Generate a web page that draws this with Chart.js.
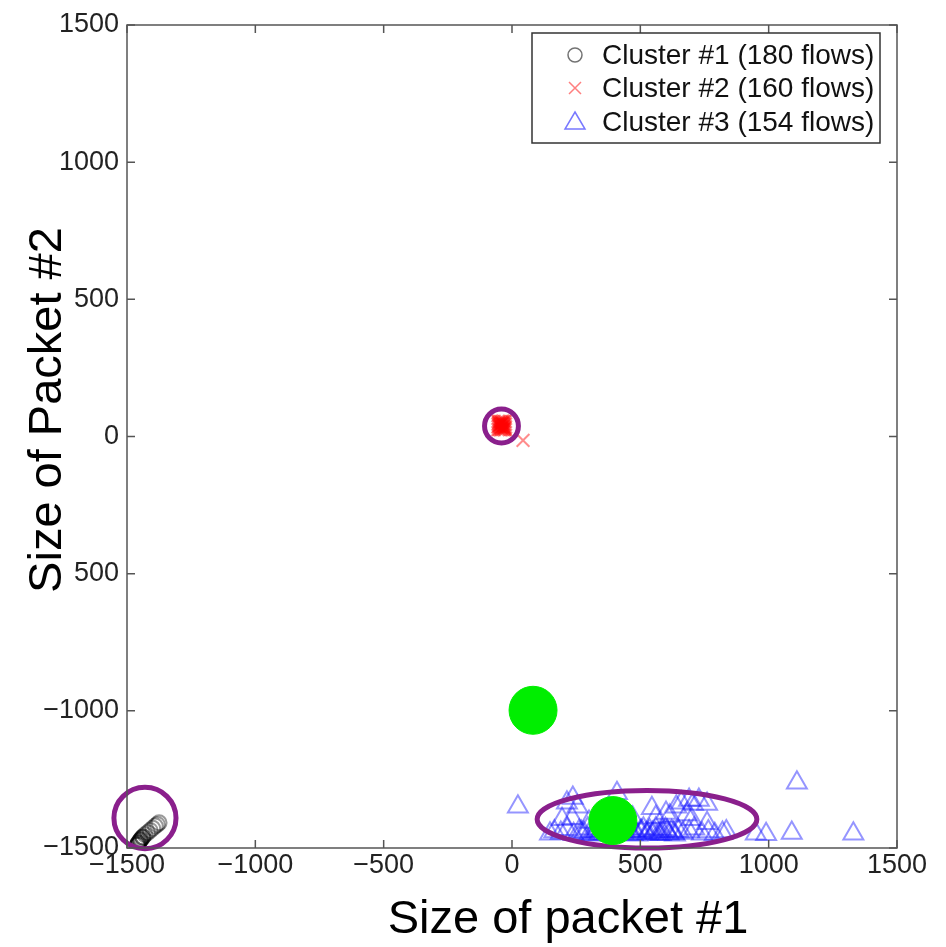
<!DOCTYPE html>
<html>
<head>
<meta charset="utf-8">
<script src="https://cdn.jsdelivr.net/npm/chart.js@4.4.1/dist/chart.umd.min.js"></script>
<style>
  html, body { margin: 0; padding: 0; background: #fff; }
  #wrap { width: 946px; height: 947px; }
</style>
</head>
<body>
<div id="wrap"><canvas id="myChart" width="946" height="947"></canvas></div>
<script>
// tick labels as they appear on the figure
const xTickLabels = ['\u22121500', '\u22121000', '\u2212500', '0', '500', '1000', '1500'];
const yTickLabels = ['\u22121500', '\u22121000', '500', '0', '500', '1000', '1500'];

const seriesLabels = ['Cluster #1 (180 flows)', 'Cluster #2 (160 flows)', 'Cluster #3 (154 flows)'];

// cluster 1 - circles, bottom left diagonal (lower ones overlap a lot)
const c1x = [-1460, -1460, -1458, -1456, -1456, -1452, -1450, -1447, -1447, -1442, -1438, -1438, -1430,
    -1420, -1410, -1400, -1390, -1382, -1375];
const c1y = [-1490, -1490, -1486, -1482, -1482, -1478, -1474, -1470, -1470, -1464, -1460, -1460, -1452,
    -1444, -1436, -1428, -1420, -1414, -1408];

// cluster 2 - crosses, near the origin
const c2x = [-55, -50, -45, -40, -35, -30, -25, -55, -50, -45, -40, -35, -30, -25, -55, -50, -45, -40, -35, -30, -25,
    -55, -50, -45, -40, -35, -30, -25, -52, -47, -42, -37, -32, -27, -52, -42, -32, 43];
const c2y = [55, 55, 54, 55, 56, 54, 55, 45, 46, 44, 45, 46, 44, 45, 35, 36, 34, 35, 36, 34, 35,
    25, 26, 24, 25, 26, 24, 25, 50, 40, 30, 50, 40, 30, 40, 50, 30, -14];

// cluster 3 - triangles, bottom right
const c3x = [23, 214, 237, 255, 409, 545, 600, 640, 660, 690, 705, 728, 760, 1110,
    195, 235, 300, 470, 560, 615, 680, 700, 760,
    148, 165, 190, 215, 240, 262, 280, 295, 310, 325, 340, 355, 370, 385, 420, 435, 450, 462, 475, 488, 500, 512,
    524, 536, 548, 560, 572, 585, 598, 610, 622, 635, 648, 665, 690, 710, 740, 765, 790, 820, 835, 950, 990, 1090, 1330,
    270, 300, 330, 360, 440, 470, 505, 530, 555, 580, 605, 630];
const c3y = [-1350, -1335, -1318, -1350, -1300, -1355, -1372, -1350, -1335, -1325, -1340, -1325, -1340, -1262,
    -1395, -1392, -1405, -1390, -1388, -1382, -1378, -1395, -1410,
    -1448, -1440, -1445, -1432, -1450, -1438, -1445, -1430, -1452, -1440, -1448, -1435, -1445, -1452, -1440, -1448,
    -1430, -1445, -1438, -1452, -1440, -1430, -1448, -1436, -1445, -1430, -1450, -1440, -1432, -1448, -1440, -1452,
    -1438, -1445, -1440, -1430, -1448, -1440, -1450, -1445, -1440, -1448, -1450, -1445, -1448,
    -1442, -1450, -1438, -1446, -1442, -1450, -1438, -1446, -1442, -1450, -1438, -1446];

// cluster centres (green)
const centreX = [82, 393];
const centreY = [-998, -1400];

// purple rings: centre and radii in data units
const ringX = [-1430, -41, 526];
const ringY = [-1391, 38, -1395];
const ringRx = [121, 66, 428];
const ringRy = [112, 62, 105];

function toPoints(xs, ys) {
    return xs.map((x, i) => ({ x: x, y: ys[i] }));
}

const fontName = '"Liberation Sans", Arial, Helvetica, sans-serif';
const circleColor = 'rgba(0,0,0,0.4)';
const crossColor = 'rgba(255,0,0,0.45)';
const triColor = 'rgba(20,20,255,0.45)';
const ringColor = '#8a1f8c';

const extras = {
    id: 'extras',
    beforeDatasetDraw(chart, args) {
        if (args.index !== 3) return;
        const ctx = chart.ctx;
        const xs = chart.scales.x, ys = chart.scales.y;
        ctx.save();
        ctx.strokeStyle = ringColor;
        ctx.lineWidth = 5;
        for (let i = 0; i < ringX.length; i++) {
            const cx = xs.getPixelForValue(ringX[i]);
            const cy = ys.getPixelForValue(ringY[i]);
            const rx = xs.getPixelForValue(ringX[i] + ringRx[i]) - cx;
            const ry = cy - ys.getPixelForValue(ringY[i] + ringRy[i]);
            ctx.beginPath();
            ctx.ellipse(cx, cy, rx, ry, 0, 0, Math.PI * 2);
            ctx.stroke();
        }
        ctx.restore();
    },
    afterDraw(chart) {
        const ctx = chart.ctx;
        const a = chart.chartArea;
        const xs = chart.scales.x, ys = chart.scales.y;
        ctx.save();
        // frame
        ctx.strokeStyle = '#555';
        ctx.lineWidth = 1.5;
        ctx.strokeRect(a.left, a.top, a.right - a.left, a.bottom - a.top);
        // inward ticks on all sides
        const tl = 8;
        ctx.beginPath();
        xs.ticks.forEach(t => {
            const px = xs.getPixelForValue(t.value);
            ctx.moveTo(px, a.bottom); ctx.lineTo(px, a.bottom - tl);
            ctx.moveTo(px, a.top); ctx.lineTo(px, a.top + tl);
        });
        ys.ticks.forEach(t => {
            const py = ys.getPixelForValue(t.value);
            ctx.moveTo(a.left, py); ctx.lineTo(a.left + tl, py);
            ctx.moveTo(a.right, py); ctx.lineTo(a.right - tl, py);
        });
        ctx.stroke();

        // axis titles
        ctx.fillStyle = '#000';
        ctx.font = '47px ' + fontName;
        ctx.textAlign = 'center';
        ctx.textBaseline = 'alphabetic';
        ctx.fillText('Size of packet #1', 568, 933);
        ctx.save();
        ctx.translate(61, 410);
        ctx.rotate(-Math.PI / 2);
        ctx.fillText('Size of Packet #2', 0, 0);
        ctx.restore();

        // legend
        const lx = 532, ly = 33, lw = 348, lh = 110;
        ctx.fillStyle = '#fff';
        ctx.fillRect(lx, ly, lw, lh);
        ctx.strokeStyle = '#333';
        ctx.lineWidth = 1.5;
        ctx.strokeRect(lx, ly, lw, lh);
        const rows = [55, 88, 122];
        const mx = 575;
        ctx.lineWidth = 1.5;
        // circle
        ctx.strokeStyle = 'rgba(0,0,0,0.55)';
        ctx.beginPath();
        ctx.arc(mx, rows[0], 7, 0, Math.PI * 2);
        ctx.stroke();
        // cross
        ctx.strokeStyle = 'rgba(255,0,0,0.5)';
        ctx.beginPath();
        ctx.moveTo(mx - 6, rows[1] - 6); ctx.lineTo(mx + 6, rows[1] + 6);
        ctx.moveTo(mx + 6, rows[1] - 6); ctx.lineTo(mx - 6, rows[1] + 6);
        ctx.stroke();
        // triangle
        ctx.strokeStyle = 'rgba(30,30,255,0.6)';
        ctx.beginPath();
        ctx.moveTo(mx, rows[2] - 10);
        ctx.lineTo(mx + 10, rows[2] + 7);
        ctx.lineTo(mx - 10, rows[2] + 7);
        ctx.closePath();
        ctx.stroke();

        ctx.fillStyle = '#111';
        ctx.font = '28px ' + fontName;
        ctx.textAlign = 'left';
        ctx.textBaseline = 'middle';
        seriesLabels.forEach((s, i) => ctx.fillText(s, 602, rows[i] + 1));
        ctx.restore();
    }
};

const ctx = document.getElementById('myChart').getContext('2d');
const myChart = new Chart(ctx, {
    type: 'scatter',
    data: {
        datasets: [{
            label: seriesLabels[0],
            data: toPoints(c1x, c1y),
            pointStyle: 'circle',
            pointRadius: 7.5,
            backgroundColor: 'rgba(0,0,0,0)',
            borderColor: circleColor,
            borderWidth: 2,
            order: 1
        }, {
            label: seriesLabels[1],
            data: toPoints(c2x, c2y),
            pointStyle: 'crossRot',
            pointRadius: 9,
            borderColor: crossColor,
            borderWidth: 2,
            order: 1
        }, {
            label: seriesLabels[2],
            data: toPoints(c3x, c3y),
            pointStyle: 'triangle',
            pointRadius: 11.5,
            backgroundColor: 'rgba(0,0,0,0)',
            borderColor: triColor,
            borderWidth: 2,
            order: 1
        }, {
            label: 'centres',
            data: toPoints(centreX, centreY),
            pointStyle: 'circle',
            pointRadius: 24,
            backgroundColor: 'rgb(0,238,0)',
            borderColor: 'rgb(0,238,0)',
            borderWidth: 1,
            order: 0
        }]
    },
    options: {
        responsive: false,
        animation: false,
        events: [],
        layout: {
            padding: { left: 0, right: 49, top: 20, bottom: 0 }
        },
        plugins: {
            legend: { display: false },
            tooltip: { enabled: false }
        },
        scales: {
            x: {
                type: 'linear',
                min: -1500,
                max: 1500,
                afterFit: s => { s.height = 99; s.paddingLeft = 0; s.paddingRight = 0; },
                grid: { display: false, drawTicks: false },
                border: { display: false },
                ticks: {
                    stepSize: 500,
                    padding: 1,
                    maxRotation: 0,
                    autoSkip: false,
                    color: '#222',
                    font: { family: fontName, size: 27 },
                    callback: (v, i) => xTickLabels[i]
                }
            },
            y: {
                type: 'linear',
                min: -1500,
                max: 1500,
                afterFit: s => { s.width = 127; s.paddingTop = 0; s.paddingBottom = 0; },
                grid: { display: false, drawTicks: false },
                border: { display: false },
                ticks: {
                    stepSize: 500,
                    padding: 8,
                    autoSkip: false,
                    color: '#222',
                    font: { family: fontName, size: 27 },
                    callback: (v, i) => yTickLabels[i]
                }
            }
        }
    },
    plugins: [extras]
});
</script>
</body>
</html>
